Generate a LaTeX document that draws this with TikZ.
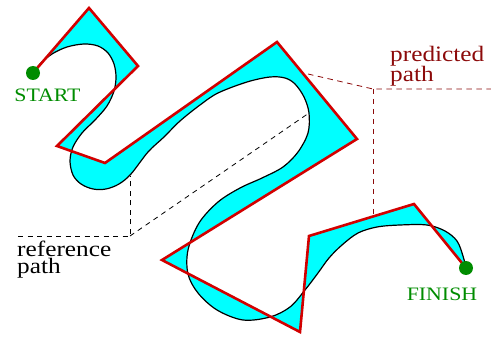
\documentclass[tikz,border=0pt]{standalone}
\usepackage{fontspec}
\setmainfont[FakeStretch=1.15]{Liberation Serif}
\begin{document}
\begin{tikzpicture}[x=1pt,y=-1pt,
  predline/.style={draw=redline,line width=2.6pt,line join=miter},
  refline/.style={draw=black,line width=1.2pt},
  refdash/.style={draw=black,line width=0.8pt,dash pattern=on 5pt off 4.5pt},
  preddash/.style={draw=darkred,line width=0.8pt,dash pattern=on 5.5pt off 4.5pt},
  dotstyle/.style={circle,fill=startgreen,inner sep=0pt,minimum size=14pt},
  endlabel/.style={text=startgreen,font=\fontsize{19}{20}\selectfont,anchor=base,inner sep=0pt},
  bigl/.style={font=\fontsize{22}{15}\selectfont,align=left,anchor=base west,inner sep=0pt}]
\definecolor{redline}{RGB}{210,0,0}
\definecolor{startgreen}{RGB}{0,140,0}
\definecolor{darkred}{RGB}{140,10,10}
\definecolor{fillcyan}{RGB}{0,255,255}
\useasboundingbox (0,0) rectangle (491,337);
\def\refcurve{plot[smooth,tension=0.55] coordinates {
(33,73) (40,64) (52,54) (67,47) (84,44) (98,46) (108,53) (114,64) (116,77)
(114,91) (107,106) (95,120) (82,133) (73,147) (70,161) (73,175) (81,184)
(93,189) (106,189) (119,184) (131,174) (148,152) (164,137) (180,121)
(200,105) (218,93) (247,82) (270,77) (285,78) (295,84) (304,97) (309,113)
(308,133) (298,152) (283,167) (262,178) (240,188) (218,202) (199,223)
(188,250) (188,274) (198,293) (217,310) (243,320) (270,317) (290,307)
(305,290) (318,273) (329,258) (342,245) (358,233) (377,227) (400,225)
(427,225) (445,231) (457,241) (463,256) (466,268)}}
\coordinate (S) at (33,73);
\coordinate (P1) at (89,8);
\coordinate (P2) at (138,66);
\coordinate (P3) at (57,146);
\coordinate (P4) at (105,163);
\coordinate (P5) at (277,42);
\coordinate (P6) at (357,139);
\coordinate (P7) at (162,260);
\coordinate (P8) at (300,332);
\coordinate (P9) at (309,236);
\coordinate (P10) at (414,204);
\coordinate (F) at (466,268);
% fill between paths
\fill[fillcyan,even odd rule] \refcurve -- (P10) -- (P9) -- (P8) -- (P7) -- (P6) -- (P5) -- (P4) -- (P3) -- (P2) -- (P1) -- cycle;
\draw[refline] \refcurve;
\draw[predline] (S) -- (P1) -- (P2) -- (P3) -- (P4) -- (P5) -- (P6) -- (P7) -- (P8) -- (P9) -- (P10) -- (F);
\node[dotstyle] (sdot) at (S) {};
\node[dotstyle] (fdot) at (F) {};
\node[endlabel] (slab) at (47.5,102) {START};
\node[endlabel] (flab) at (442,300) {FINISH};
% reference label
\coordinate (rk) at (130,236);
\coordinate (rl) at (18,236);
\coordinate (ra) at (130,176);
\coordinate (rb) at (309,113);
\draw[refdash] (rl) -- (rk) -- (ra);
\draw[refdash] (rk) -- (rb);
\node[bigl] (rtext) at (17,273) {reference\\path};
% predicted label
\coordinate (pk) at (373,89);
\coordinate (pr) at (491,89);
\coordinate (pa) at (308,74);
\coordinate (pb) at (373,214);
\draw[preddash] (pa) -- (pk) -- (pr);
\draw[preddash] (pk) -- (pb);
\node[bigl,text=darkred] (ptext) at (390,82) {predicted\\path};
\end{tikzpicture}
\end{document}
